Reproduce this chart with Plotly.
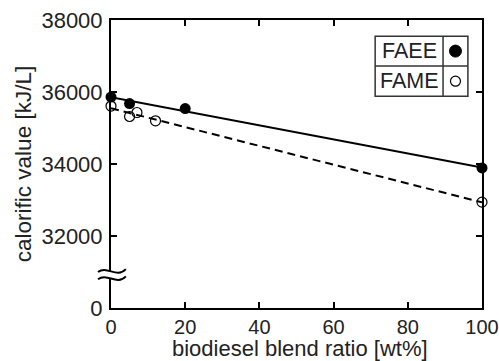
import numpy as np
import plotly.graph_objects as go

# Data
faee_x = [0, 5, 20, 100]
faee_y = [35860, 35680, 35540, 33890]
fame_x = [0, 5, 7, 12, 100]
fame_y = [35610, 35320, 35430, 35200, 32940]

x_ticks = [0, 20, 40, 60, 80, 100]
y_ticks = [30000, 32000, 34000, 36000, 38000]
y_tick_labels = ["0", "32000", "34000", "36000", "38000"]

fit_x = [0, 100]
faee_fit = np.polyval(np.polyfit(faee_x, faee_y, 1), fit_x)
fame_fit = np.polyval(np.polyfit(fame_x, fame_y, 1), fit_x)

FONT = "Liberation Sans, Arial, sans-serif"
TXT = "#222"

fig = go.Figure()
fig.add_trace(go.Scatter(x=fit_x, y=faee_fit, mode="lines",
                         line=dict(color="black", width=2), showlegend=False))
fig.add_trace(go.Scatter(x=fit_x, y=fame_fit, mode="lines",
                         line=dict(color="black", width=2, dash="8px,5px"), showlegend=False))
fig.add_trace(go.Scatter(x=faee_x, y=faee_y, mode="markers", cliponaxis=False,
                         marker=dict(symbol="circle", size=11, color="black"), showlegend=False))
fig.add_trace(go.Scatter(x=fame_x, y=fame_y, mode="markers", cliponaxis=False,
                         marker=dict(symbol="circle-open", size=10, color="black",
                                     line=dict(width=1.2, color="black")), showlegend=False))

axis_common = dict(showline=True, linecolor="black", linewidth=2, mirror="ticks",
                   ticks="inside", ticklen=6, tickwidth=2, tickcolor="black",
                   showgrid=False, zeroline=False, automargin=False,
                   ticklabeloverflow="allow")

fig.update_xaxes(range=[0, 100], tickvals=x_ticks, ticklabelstandoff=0,
                 tickfont=dict(family=FONT, size=20, color=TXT),
                 **axis_common)
fig.update_yaxes(range=[30000, 38000], tickvals=y_ticks, ticktext=y_tick_labels,
                 ticklabelstandoff=2,
                 tickfont=dict(family=FONT, size=22, color=TXT),
                 title=dict(text="calorific value [kJ/L]", standoff=4,
                            font=dict(family=FONT, size=22.5, color=TXT)),
                 **axis_common)

# Legend box (table style)
lx0, lxm, lx1 = 0.712, 0.895, 0.962
ly0, lym, ly1 = 0.735, 0.840, 0.944
shapes = []
shapes.append(dict(type="rect", xref="x domain", yref="y domain", x0=lx0, y0=ly0, x1=lx1, y1=ly1,
                   line=dict(color="#333", width=1.5), fillcolor="white", layer="above"))
shapes.append(dict(type="line", xref="x domain", yref="y domain", x0=lxm, x1=lxm, y0=ly0, y1=ly1,
                   line=dict(color="#333", width=1.5)))
shapes.append(dict(type="line", xref="x domain", yref="y domain", x0=lx0, x1=lx1, y0=lym, y1=lym,
                   line=dict(color="#333", width=1.5)))
cx = (lxm + lx1) / 2
shapes.append(dict(type="circle", xref="x domain", yref="y domain", xsizemode="pixel",
                   ysizemode="pixel", xanchor=cx, yanchor=(lym + ly1) / 2,
                   x0=-6, x1=6, y0=-6, y1=6, fillcolor="black", line=dict(color="black", width=1)))
shapes.append(dict(type="circle", xref="x domain", yref="y domain", xsizemode="pixel",
                   ysizemode="pixel", xanchor=cx, yanchor=(ly0 + lym) / 2,
                   x0=-5, x1=5, y0=-5, y1=5, fillcolor="white", line=dict(color="black", width=1.2)))

# Axis break marks
bx0, bx1 = -0.035, 0.040
w = bx1 - bx0
a = 0.012
def wave(yc):
    return (f"{bx0},{yc} C {bx0 + w/3},{yc + 2*a} {bx0 + 2*w/3},{yc - 2*a} {bx1},{yc + 0.01}")
yu, yl = 0.125, 0.100
fill_path = (f"M {bx0},{yu} C {bx0 + w/3},{yu + 2*a} {bx0 + 2*w/3},{yu - 2*a} {bx1},{yu + 0.01} "
             f"L {bx1},{yl + 0.01} C {bx0 + 2*w/3},{yl - 2*a} {bx0 + w/3},{yl + 2*a} {bx0},{yl} Z")
shapes.append(dict(type="path", xref="x domain", yref="y domain", path=fill_path,
                   fillcolor="white", line=dict(width=0), layer="above"))
for yc in (yu, yl):
    shapes.append(dict(type="path", xref="x domain", yref="y domain", path="M " + wave(yc),
                       line=dict(color="black", width=2), layer="above"))

annotations = [
    dict(text="FAEE", xref="x domain", yref="y domain", x=(lx0 + lxm) / 2, y=(lym + ly1) / 2,
         xanchor="center", yanchor="middle",
         showarrow=False, font=dict(family=FONT, size=21.5, color=TXT)),
    dict(text="FAME", xref="x domain", yref="y domain", x=(lx0 + lxm) / 2, y=(ly0 + lym) / 2,
         xanchor="center", yanchor="middle",
         showarrow=False, font=dict(family=FONT, size=21.5, color=TXT)),
    # x-axis title
    dict(text="biodiesel blend ratio [wt%]", xref="x domain", yref="paper", x=0.51, y=0,
         xanchor="center", yanchor="bottom", yshift=-54, borderpad=0,
         showarrow=False, font=dict(family=FONT, size=22, color=TXT)),
]

fig.update_layout(width=499, height=361, margin=dict(l=111, r=17, t=20, b=53),
                  plot_bgcolor="white", paper_bgcolor="white",
                  shapes=shapes, annotations=annotations, showlegend=False)

fig.write_html("out.html", config={"displayModeBar": False},
               post_script="document.body.style.margin='0';document.body.style.overflow='hidden';")
